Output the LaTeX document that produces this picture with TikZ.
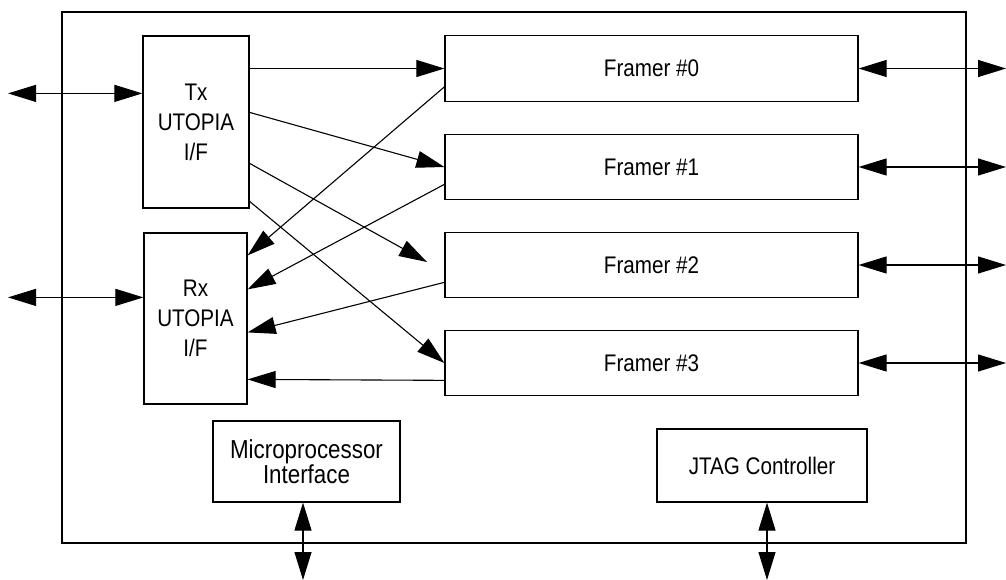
\documentclass[tikz,border=0pt]{standalone}
\usepackage{fontspec}
\setmainfont{Liberation Sans}[FakeStretch=0.86]
\usetikzlibrary{arrows.meta}
\tikzset{
  blk/.style={draw, line width=1.2pt, inner sep=0pt, align=center, font=\fontsize{24}{30}\selectfont},
  sig/.style={line width=1.1pt, -{Triangle[length=28pt,width=17pt]}},
  bus/.style={line width=1.1pt, {Triangle[length=28pt,width=17pt]}-{Triangle[length=28pt,width=17pt]}}
}
\begin{document}
\begin{tikzpicture}[x=1pt,y=-1pt]
\useasboundingbox (0,0) rectangle (1006,580);
\node[draw, line width=1.4pt, minimum width=904pt, minimum height=531pt] (chip) at (514,277.5) {};
\node[blk, minimum width=106pt, minimum height=172pt] (tx) at (196,122) {Tx\\UTOPIA\\I/F};
\node[blk, minimum width=103pt, minimum height=171pt] (rx) at (195.5,318.5) {Rx\\UTOPIA\\I/F};
\foreach \i/\y in {0/68.5,1/167,2/265,3/363}
  \node[blk, minimum width=413pt, minimum height=65.5pt] (f\i) at (651.5,\y) {Framer \#\i};
\node[blk, minimum width=187pt, minimum height=81pt, font=\fontsize{26}{20}\selectfont] (up) at (306.5,461.5) {Microprocessor\\Interface};
\node[blk, minimum width=210pt, minimum height=73pt] (jtag) at (762,465.5) {JTAG Controller};
\coordinate (edgeL) at (8,0);
\coordinate (edgeR) at (1006,0);
\coordinate (edgeB) at (0,580);
\coordinate (stub) at (427,262);
\coordinate (txin) at ([yshift=-58pt]tx.north west);
\coordinate (rxin) at ([yshift=-65pt]rx.north west);
\draw[bus] (edgeL |- txin) -- (txin);
\draw[bus] (edgeL |- rxin) -- (rxin);
\foreach \i in {0,...,3}
  \draw[bus] (f\i.east) -- (f\i.east -| edgeR);
\draw[sig] (tx.east |- f0.west) -- (f0.west);
\draw[sig] ([yshift=-77pt]tx.north east) -- (f1.west);
\draw[sig] ([yshift=-128pt]tx.north east) -- (stub);
\draw[sig] ([yshift=-166pt]tx.north east) -- (f3.west);
\draw[sig] ([yshift=15pt]f0.south west) -- ([yshift=-23pt]rx.north east);
\draw[sig] ([yshift=16pt]f1.south west) -- ([yshift=-57pt]rx.north east);
\draw[sig] ([yshift=16pt]f2.south west) -- ([yshift=-100pt]rx.north east);
\draw[sig] ([yshift=16pt]f3.south west) -- ([yshift=-147pt]rx.north east);
\draw[bus] ([xshift=-3.5pt]up.south) -- ([xshift=-3.5pt]up.south |- edgeB);
\draw[bus] ([xshift=5pt]jtag.south) -- ([xshift=5pt]jtag.south |- edgeB);
\end{tikzpicture}
\end{document}
